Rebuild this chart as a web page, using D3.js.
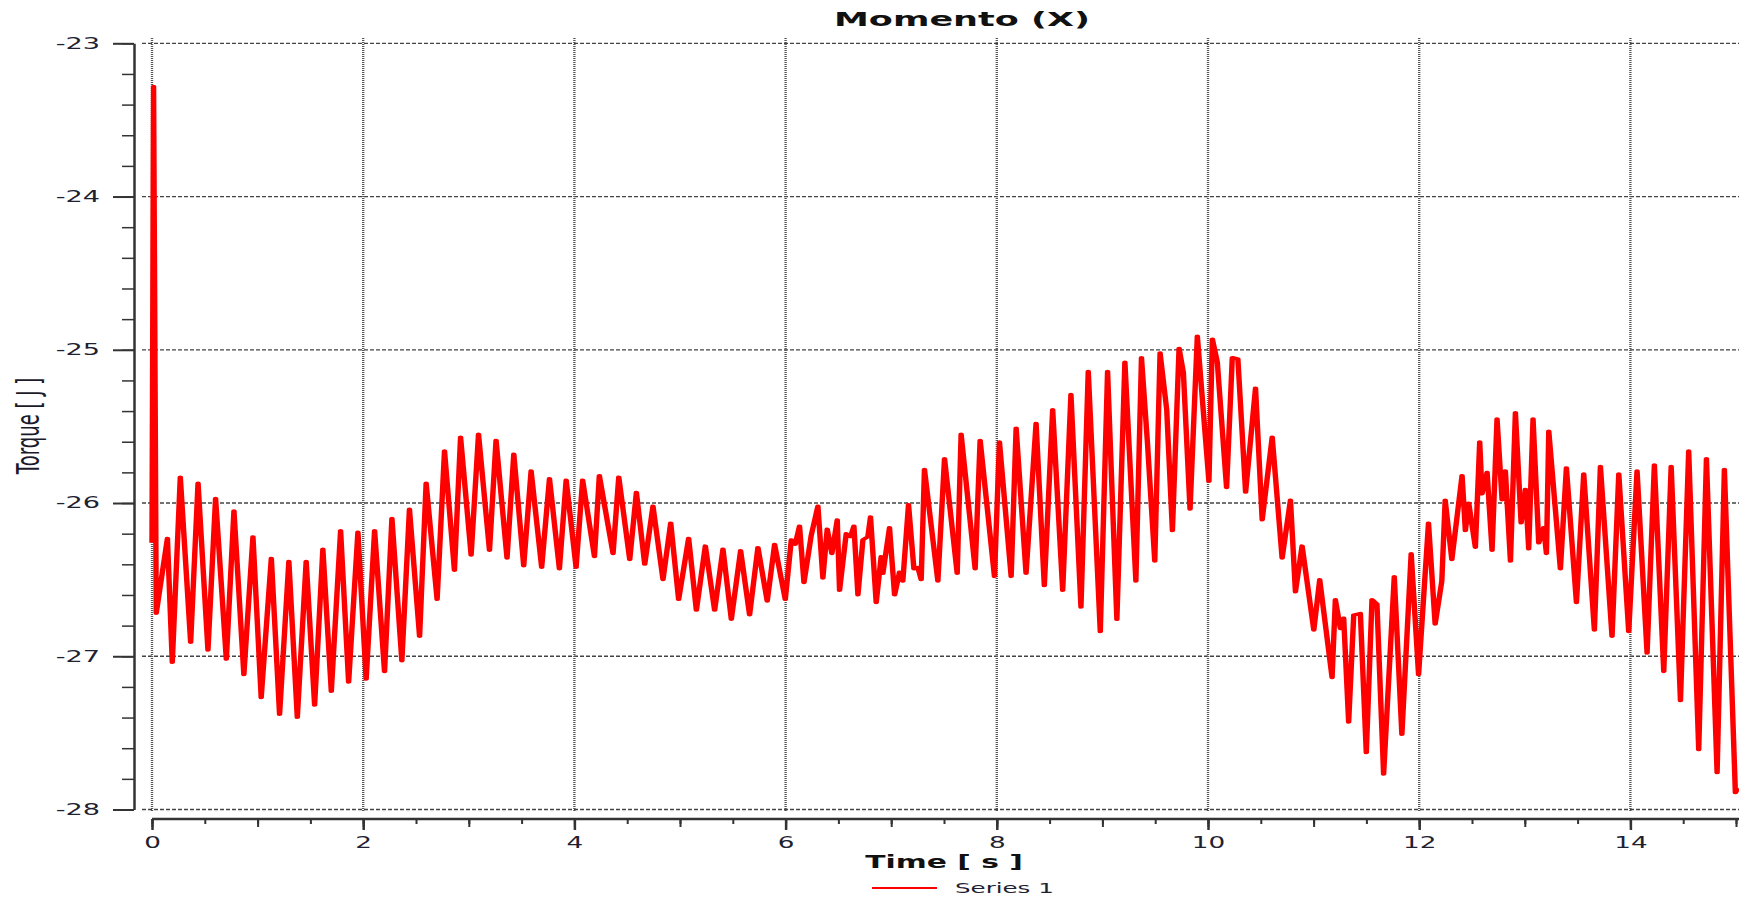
<!DOCTYPE html>
<html>
<head>
<meta charset="utf-8">
<script src="https://cdn.jsdelivr.net/npm/d3@7"></script>
<style>
  body { margin: 0; background: #fff; }
  svg { display: block; }
</style>
</head>
<body>
<svg id="chart"></svg>
<script>
// time stamps [s] and torque values
const timeS = [
  0, 0.015, 0.04, 0.146, 0.192, 0.268, 0.366, 0.436, 0.530, 0.602, 0.704, 0.776, 0.870, 0.956,
  1.034, 1.130, 1.208, 1.296, 1.376, 1.460, 1.540, 1.618, 1.698, 1.786, 1.862, 1.950,
  2.028, 2.108, 2.202, 2.272, 2.366, 2.438, 2.534, 2.596, 2.700, 2.770, 2.864, 2.922,
  3.022, 3.092, 3.196, 3.258, 3.362, 3.426, 3.520, 3.590, 3.690, 3.764, 3.858, 3.922,
  4.016, 4.078, 4.190, 4.236, 4.366, 4.420, 4.524, 4.587, 4.666, 4.744, 4.839, 4.912, 4.987,
  5.082, 5.155, 5.240, 5.328, 5.407, 5.486, 5.574, 5.659, 5.738, 5.826, 5.896, 5.997,
  6.054, 6.091, 6.132, 6.174, 6.243, 6.306, 6.353, 6.394, 6.438, 6.489, 6.511, 6.574, 6.615,
  6.647, 6.685, 6.732, 6.779, 6.804, 6.858, 6.905, 6.921, 6.984,
  7.032, 7.079, 7.110, 7.164, 7.215, 7.252, 7.284, 7.315, 7.442, 7.505, 7.625, 7.662, 7.795, 7.842, 7.978,
  8.025, 8.136, 8.183, 8.277, 8.372, 8.450, 8.529, 8.624, 8.702, 8.797, 8.866, 8.980,
  9.049, 9.137, 9.213, 9.317, 9.370, 9.427, 9.496, 9.546, 9.609, 9.663, 9.726, 9.767, 9.830, 9.899,
  10.009, 10.041, 10.088, 10.176, 10.230, 10.283, 10.356, 10.450, 10.513, 10.608, 10.702, 10.781, 10.828, 10.891,
  11.002, 11.058, 11.175, 11.206, 11.254, 11.285, 11.332, 11.380, 11.443, 11.499, 11.553, 11.600, 11.663, 11.764, 11.836, 11.924, 11.994,
  12.088, 12.151, 12.214, 12.246, 12.309, 12.406, 12.437, 12.469, 12.532, 12.573, 12.595, 12.643, 12.690,
  12.737, 12.785, 12.816, 12.864, 12.911, 12.965,
  13.006, 13.037, 13.078, 13.132, 13.179, 13.205, 13.227, 13.337, 13.394, 13.489, 13.558, 13.659, 13.716, 13.826, 13.890, 13.984,
  14.063, 14.158, 14.227, 14.316, 14.386, 14.474, 14.552, 14.647, 14.720, 14.821, 14.890, 14.994, 15.02
];
const torque = [
  -26.26, -23.28, -26.72, -26.23, -27.04, -25.83, -26.91, -25.87, -26.96, -25.97, -27.02, -26.05, -27.12, -26.22,
  -27.27, -26.36, -27.38, -26.38, -27.40, -26.38, -27.32, -26.30, -27.23, -26.18, -27.17, -26.19,
  -27.15, -26.18, -27.10, -26.10, -27.03, -26.04, -26.87, -25.87, -26.63, -25.66, -26.44, -25.57,
  -26.34, -25.55, -26.31, -25.59, -26.36, -25.68, -26.41, -25.79, -26.42, -25.84, -26.43, -25.85,
  -26.42, -25.85, -26.35, -25.82, -26.33, -25.83, -26.37, -25.93, -26.40, -26.02, -26.50, -26.13, -26.63,
  -26.23, -26.70, -26.28, -26.70, -26.30, -26.76, -26.31, -26.73, -26.29, -26.64, -26.27, -26.63,
  -26.24, -26.27, -26.15, -26.52, -26.21, -26.02, -26.49, -26.17, -26.33, -26.11, -26.57, -26.20, -26.22,
  -26.15, -26.60, -26.24, -26.22, -26.09, -26.65, -26.35, -26.46, -26.16,
  -26.60, -26.45, -26.51, -26.01, -26.43, -26.42, -26.50, -25.78, -26.51, -25.71, -26.46, -25.55, -26.43, -25.59, -26.48,
  -25.60, -26.48, -25.51, -26.46, -25.48, -26.54, -25.39, -26.57, -25.29, -26.68, -25.14, -26.84,
  -25.14, -26.76, -25.08, -26.51, -25.05, -25.61, -26.38, -25.02, -25.39, -26.18, -24.99, -25.15, -26.04, -24.91,
  -25.86, -24.93, -25.08, -25.90, -25.05, -25.06, -25.93, -25.25, -26.11, -25.57, -26.36, -25.98, -26.58, -26.28,
  -26.83, -26.50, -27.14, -26.63, -26.82, -26.75, -27.43, -26.73, -26.72, -27.63, -26.63, -26.66, -27.77, -26.48, -27.51, -26.33, -27.12,
  -26.13, -26.79, -26.51, -25.98, -26.37, -25.82, -26.18, -26.00, -26.29, -25.60, -25.94, -25.80, -26.31,
  -25.45, -25.98, -25.79, -26.38, -25.41, -26.13,
  -25.91, -26.30, -25.45, -26.26, -26.16, -26.33, -25.53, -26.43, -25.77, -26.65, -25.81, -26.83, -25.76, -26.87, -25.81, -26.84,
  -25.79, -26.98, -25.75, -27.10, -25.76, -27.29, -25.66, -27.61, -25.71, -27.76, -25.78, -27.89, -27.86
];

const xTicks = [0, 2, 4, 6, 8, 10, 12, 14];
const yTicks = [-28, -27, -26, -25, -24, -23];

const chartTitle = "Momento (X)";
const xTitle = "Time [ s ]";
const yTitle = "Torque [ J ]";
const seriesName = "Series 1";

var W = 1739, H = 897;
var stretch = 1.75;   // the picture is widened sideways, text and strokes too

var svg = d3.select("#chart").attr("width", W).attr("height", H);

var x = d3.scaleLinear().domain([0, 15]).range([152, 1736]);
var y = d3.scaleLinear().domain([-28, -23]).range([809.5, 43.3]);

var data = timeS.map((t, i) => ({t: t, v: torque[i]}));

// widen a text element by the stretch factor
function widen(sel) {
  sel.each(function() {
    var w = this.getComputedTextLength();
    d3.select(this).attr("textLength", w * stretch).attr("lengthAdjust", "spacingAndGlyphs");
  });
}

// grid
svg.append("g").selectAll("line")
  .data(yTicks)
  .enter().append("line")
  .attr("x1", 142).attr("x2", W)
  .attr("y1", d => y(d)).attr("y2", d => y(d))
  .attr("stroke", "#444").attr("stroke-width", 1.3)
  .attr("stroke-dasharray", "4,2");

svg.append("g").selectAll("line")
  .data(xTicks)
  .enter().append("line")
  .attr("x1", d => x(d)).attr("x2", d => x(d))
  .attr("y1", 38).attr("y2", 812)
  .attr("stroke", "#555").attr("stroke-width", 2.4)
  .attr("stroke-dasharray", "1,1");

// y axis: minor then major
var yMinor = d3.range(-28, -22.99, 0.2).map(d => Math.round(d * 10) / 10);
svg.append("g")
  .attr("transform", "translate(134,0)")
  .call(d3.axisLeft(y).tickValues(yMinor).tickSize(12).tickSizeOuter(0).tickFormat(""))
  .call(g => g.select(".domain").attr("stroke", "#333").attr("stroke-width", 2.5))
  .call(g => g.selectAll(".tick line").attr("stroke", "#333").attr("stroke-width", 1.5));

var yAx = svg.append("g")
  .attr("transform", "translate(134,0)")
  .call(d3.axisLeft(y).tickValues(yTicks).tickSize(21).tickSizeOuter(0).tickPadding(13).tickFormat(d => String(d)));
yAx.select(".domain").remove();
yAx.selectAll(".tick line").attr("stroke", "#333").attr("stroke-width", 2);
yAx.selectAll(".tick text")
  .attr("font-family", "DejaVu Sans, Verdana, sans-serif")
  .attr("font-size", 15.5)
  .attr("fill", "#1e2230")
  .call(widen);

// x axis: 0.5 minor, 1 medium, 2 major
var xHalf = d3.range(0, 15.01, 0.5);
var xOne = d3.range(0, 15.01, 1);
svg.append("g")
  .attr("transform", "translate(0,819)")
  .call(d3.axisBottom(x).tickValues(xHalf).tickSize(5).tickSizeOuter(0).tickFormat(""))
  .call(g => g.select(".domain").attr("stroke", "#333").attr("stroke-width", 2.5).attr("d", "M152,0H" + W))
  .call(g => g.selectAll(".tick line").attr("stroke", "#333").attr("stroke-width", 2));

svg.append("g")
  .attr("transform", "translate(0,819)")
  .call(d3.axisBottom(x).tickValues(xOne).tickSize(8).tickSizeOuter(0).tickFormat(""))
  .call(g => g.select(".domain").remove())
  .call(g => g.selectAll(".tick line").attr("stroke", "#333").attr("stroke-width", 2));

var xAx = svg.append("g")
  .attr("transform", "translate(0,819)")
  .call(d3.axisBottom(x).tickValues(xTicks).tickSize(11).tickSizeOuter(0).tickPadding(7).tickFormat(d => String(d)));
xAx.select(".domain").remove();
xAx.selectAll(".tick line").attr("stroke", "#333").attr("stroke-width", 2.5);
xAx.selectAll(".tick text")
  .attr("font-family", "DejaVu Sans, Verdana, sans-serif")
  .attr("font-size", 15)
  .attr("fill", "#1e2230")
  .call(widen);

// the series, drawn in a sideways-stretched group so the stroke widens like the picture
var line = d3.line()
  .x(d => x(d.t) / stretch)
  .y(d => y(d.v));

svg.append("g")
  .attr("transform", "scale(" + stretch + ",1)")
  .append("path")
  .datum(data)
  .attr("fill", "none")
  .attr("stroke", "#ff0000")
  .attr("stroke-width", 3.1)
  .attr("stroke-linejoin", "round")
  .attr("d", line);

// titles
svg.append("text")
  .attr("x", 962).attr("y", 26)
  .attr("text-anchor", "middle")
  .attr("font-family", "DejaVu Sans, Verdana, sans-serif")
  .attr("font-weight", "bold")
  .attr("font-size", 20)
  .attr("fill", "#111")
  .text(chartTitle)
  .call(widen);

svg.append("text")
  .attr("x", 944).attr("y", 868)
  .attr("text-anchor", "middle")
  .attr("font-family", "DejaVu Sans, Verdana, sans-serif")
  .attr("font-weight", "bold")
  .attr("font-size", 17)
  .attr("fill", "#111")
  .text(xTitle)
  .call(widen);

svg.append("text")
  .attr("transform", "translate(39,426) rotate(-90) scale(1," + stretch + ")")
  .attr("text-anchor", "middle")
  .attr("font-family", "DejaVu Sans, Verdana, sans-serif")
  .attr("font-size", 18)
  .attr("fill", "#1a1a2a")
  .text(yTitle);

// legend
var legend = svg.append("g").attr("transform", "translate(872,888)");
legend.append("line")
  .attr("x1", 0).attr("x2", 65)
  .attr("stroke", "#ff0000").attr("stroke-width", 2);
legend.append("text")
  .attr("x", 83).attr("y", 5)
  .attr("font-family", "DejaVu Sans, Verdana, sans-serif")
  .attr("font-size", 14)
  .attr("fill", "#1e2230")
  .text(seriesName)
  .call(widen);
</script>
</body>
</html>
